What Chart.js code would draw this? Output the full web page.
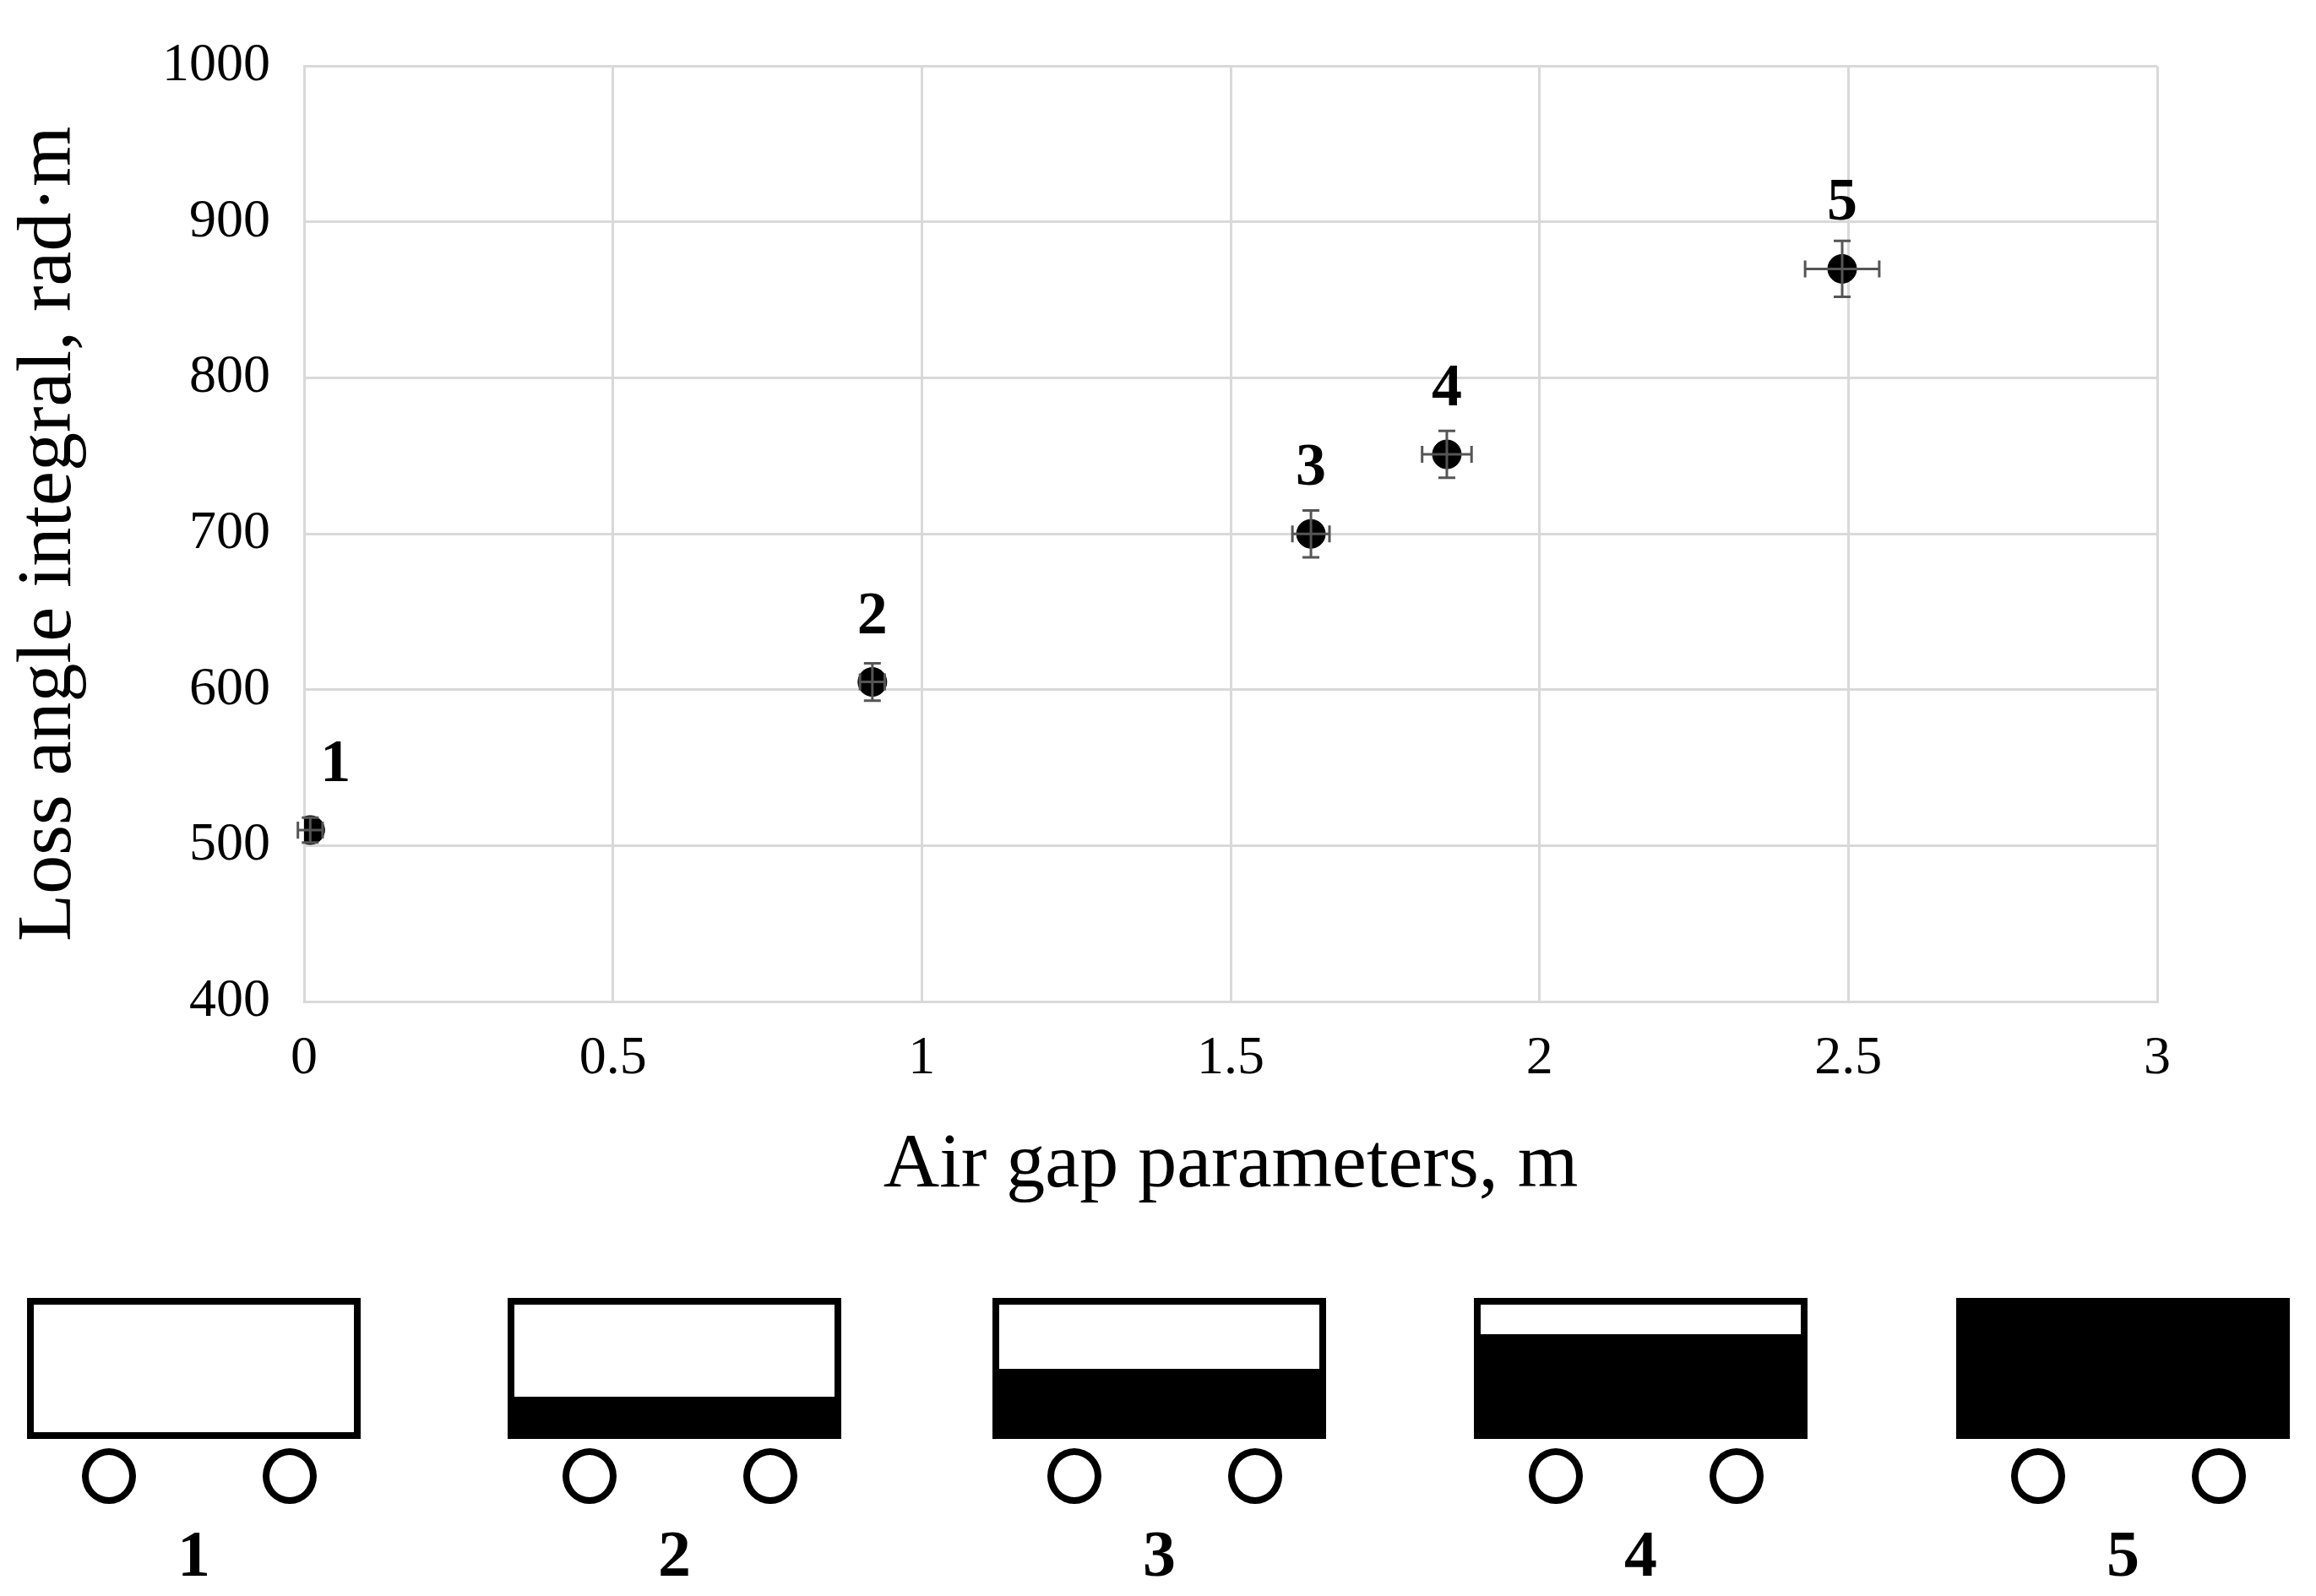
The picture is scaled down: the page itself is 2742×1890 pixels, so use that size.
<!DOCTYPE html>
<html>
<head>
<meta charset="utf-8">
<script src="https://cdn.jsdelivr.net/npm/chart.js@4"></script>
<style>
  body { margin: 0; background: #fff; width: 2742px; height: 1890px; position: relative; overflow: hidden; }
  #wrap { position: absolute; left: 0; top: 0; width: 2742px; height: 1440px; }
  .wagon { position: absolute; top: 1537px; width: 395px; height: 167px; box-sizing: border-box; border: 8px solid #000; background: #fff; }
  .fill { position: absolute; left: 0; right: 0; bottom: 0; background: #000; }
  .wheel { position: absolute; top: 1715px; width: 64px; height: 66px; box-sizing: border-box; border: 8px solid #000; border-radius: 50%; }
  .wlabel { position: absolute; top: 1795px; width: 395px; text-align: center; font: bold 78px "Liberation Serif", serif; }
</style>
</head>
<body>
<div id="wrap"><canvas id="chart"></canvas></div>
<div id="wagons"></div>
<script>
const labels = ['1', '2', '3', '4', '5'];
const xValues = [0.01, 0.92, 1.63, 1.85, 2.49];
const yValues = [510, 605, 700, 751, 870];
const xErrors = [0.02, 0.02, 0.03, 0.04, 0.06];
const yErrors = [8, 12, 15, 15, 18];
const fillShares = [0, 0.28, 0.5, 0.77, 1];

const serif = '"Liberation Serif", "DejaVu Serif", serif';

// Error bars and point numbers
const extrasPlugin = {
    id: 'extras',
    afterDatasetsDraw: (chart) => {
        const ctx = chart.ctx;
        const xs = chart.scales.x;
        const ys = chart.scales.y;
        ctx.save();
        ctx.strokeStyle = '#555';
        ctx.lineWidth = 3;
        xValues.forEach((xv, i) => {
            const px = xs.getPixelForValue(xv);
            const py = ys.getPixelForValue(yValues[i]);
            const y1 = ys.getPixelForValue(yValues[i] + yErrors[i]);
            const y2 = ys.getPixelForValue(yValues[i] - yErrors[i]);
            const x1 = xs.getPixelForValue(xv - xErrors[i]);
            const x2 = xs.getPixelForValue(xv + xErrors[i]);
            ctx.beginPath();
            ctx.moveTo(px, y1); ctx.lineTo(px, y2);
            ctx.moveTo(px - 10, y1); ctx.lineTo(px + 10, y1);
            ctx.moveTo(px - 10, y2); ctx.lineTo(px + 10, y2);
            ctx.moveTo(x1, py); ctx.lineTo(x2, py);
            ctx.moveTo(x1, py - 10); ctx.lineTo(x1, py + 10);
            ctx.moveTo(x2, py - 10); ctx.lineTo(x2, py + 10);
            ctx.stroke();

            ctx.fillStyle = '#000';
            ctx.font = 'bold 72px ' + serif;
            ctx.textAlign = 'center';
            ctx.textBaseline = 'alphabetic';
            const dx = i === 0 ? 30 : 0;
            ctx.fillText(labels[i], px + dx, py - 58);
        });
        ctx.restore();
    },
};

new Chart(document.getElementById('chart').getContext('2d'), {
    type: 'scatter',
    data: {
        datasets: [{
            data: xValues.map((x, i) => ({ x, y: yValues[i] })),
            backgroundColor: '#000',
            borderColor: '#000',
            pointRadius: 17,
            pointHoverRadius: 17,
        }],
    },
    plugins: [extrasPlugin],
    options: {
        responsive: true,
        maintainAspectRatio: false,
        animation: false,
        layout: { padding: { left: 0, right: 188, top: 40, bottom: 0 } },
        plugins: { legend: { display: false }, tooltip: { enabled: false } },
        scales: {
            x: {
                min: 0, max: 3,
                afterFit: (s) => { s.height = 254; },
                grid: { color: '#d9d9d9', lineWidth: 3, drawTicks: false },
                border: { color: '#d9d9d9', width: 3 },
                ticks: { stepSize: 0.5, color: '#000', padding: 30, font: { family: serif, size: 64 }, callback: (v) => String(v) },
                title: { display: true, text: 'Air gap parameters, m', color: '#000', padding: { top: 36 }, font: { family: serif, size: 92 } },
            },
            y: {
                min: 400, max: 1000,
                afterFit: (s) => { s.width = 360; },
                grid: { color: '#d9d9d9', lineWidth: 3, drawTicks: false },
                border: { color: '#d9d9d9', width: 3 },
                ticks: { stepSize: 100, color: '#000', padding: 40, font: { family: serif, size: 64 }, callback: (v) => String(v) },
                title: { display: true, text: 'Loss angle integral, rad\u00b7m', color: '#000', padding: { bottom: 10 }, font: { family: serif, size: 92 } },
            },
        },
    },
});

// Wagon sketches under the chart
const wagonLefts = [32, 601, 1175, 1745, 2316];
const host = document.getElementById('wagons');
wagonLefts.forEach((left, i) => {
    const w = document.createElement('div');
    w.className = 'wagon';
    w.style.left = left + 'px';
    const f = document.createElement('div');
    f.className = 'fill';
    f.style.height = (fillShares[i] * 100) + '%';
    w.appendChild(f);
    host.appendChild(w);
    [97, 311].forEach((off) => {
        const c = document.createElement('div');
        c.className = 'wheel';
        c.style.left = (left + off - 32) + 'px';
        host.appendChild(c);
    });
    const l = document.createElement('div');
    l.className = 'wlabel';
    l.style.left = left + 'px';
    l.textContent = labels[i];
    host.appendChild(l);
});
</script>
</body>
</html>
